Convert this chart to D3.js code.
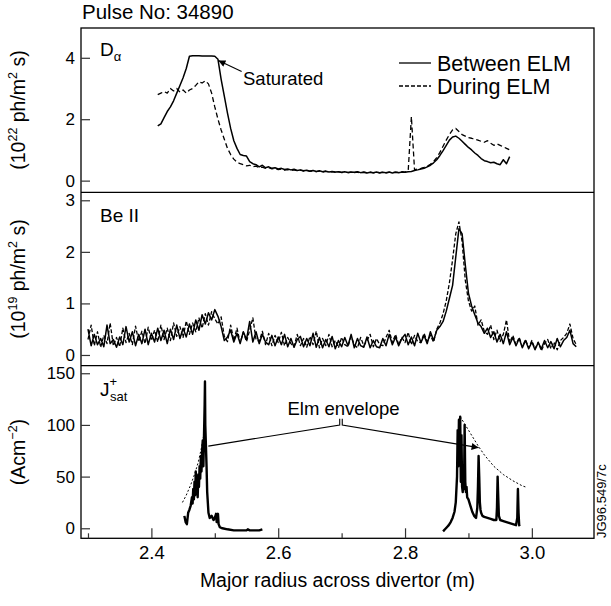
<!DOCTYPE html>
<html>
<head>
<meta charset="utf-8">
<script src="https://cdn.jsdelivr.net/npm/d3@7"></script>
<style>
  body { margin: 0; background: #fff; }
  text { font-family: "Liberation Sans", Arial, Helvetica, sans-serif; fill: #000; }
</style>
</head>
<body>
<svg id="chart" width="611" height="606"></svg>
<script>
// ---------- données ----------
var pulseNo = "34890";
var xTicks = [2.4, 2.6, 2.8, 3.0];
var xMinorTicks = [2.3, 2.5, 2.7, 2.9];

// D alpha (10^22 ph/m2 s), grille 2.410 -> 2.965 pas 0.005
var daStart = 2.41, daStep = 0.005;
var daBetween = [1.78,1.85,2.05,2.25,2.40,2.60,2.85,3.10,3.35,3.65,4.05,4.07,4.07,4.07,4.06,4.06,4.06,4.06,4.05,3.95,
  3.30,2.75,2.20,1.70,1.30,1.05,0.85,0.82,0.80,0.62,0.55,0.52,0.45,0.50,0.42,0.45,0.40,0.42,0.38,0.40,
  0.36,0.38,0.35,0.37,0.33,0.35,0.32,0.34,0.31,0.33,0.30,0.32,0.29,0.31,0.28,0.30,0.28,0.29,0.27,0.29,
  0.26,0.28,0.27,0.29,0.26,0.28,0.25,0.27,0.26,0.28,0.25,0.27,0.26,0.28,0.25,0.27,0.26,0.28,0.27,0.29,
  0.30,0.33,0.35,0.38,0.40,0.45,0.50,0.58,0.68,0.82,0.98,1.15,1.32,1.42,1.45,1.38,1.28,1.18,1.08,1.00,
  0.90,0.82,0.72,0.65,0.62,0.58,0.60,0.55,0.52,0.68,0.55,0.78];
var daDuring = [2.80,2.85,2.90,2.85,3.00,2.92,3.00,2.88,2.95,2.85,2.95,3.00,3.10,3.22,3.18,3.25,3.15,2.85,2.40,2.00,
  1.65,1.35,1.05,0.85,0.70,0.60,0.55,0.52,0.48,0.50,0.45,0.47,0.42,0.44,0.40,0.42,0.38,0.40,0.36,0.38,
  0.34,0.36,0.33,0.35,0.32,0.34,0.31,0.33,0.30,0.32,0.29,0.31,0.28,0.30,0.28,0.29,0.27,0.29,0.26,0.28,
  0.27,0.28,0.26,0.28,0.25,0.27,0.26,0.28,0.25,0.27,0.26,0.28,0.25,0.27,0.26,0.28,0.27,0.29,0.28,0.32,
  2.08,0.35,0.38,0.40,0.43,0.47,0.53,0.62,0.75,0.92,1.12,1.32,1.50,1.65,1.70,1.60,1.50,1.45,1.40,1.38,
  1.35,1.32,1.28,1.25,1.30,1.22,1.15,1.20,1.15,1.10,1.05,1.00];

// Be II (10^19 ph/m2 s), grille 2.300 -> 3.070 pas 0.005
var beStart = 2.30, beStep = 0.005;
var beBetween = [0.50,0.18,0.40,0.20,0.32,0.16,0.58,0.22,0.30,0.15,0.35,0.20,0.55,0.25,0.45,0.18,0.40,0.22,0.50,0.20,
  0.42,0.25,0.52,0.28,0.48,0.22,0.50,0.30,0.58,0.32,0.52,0.35,0.60,0.40,0.68,0.48,0.78,0.60,0.82,0.68,
  0.88,0.75,0.55,0.28,0.35,0.48,0.25,0.42,0.22,0.45,0.30,0.65,0.25,0.45,0.22,0.40,0.25,0.20,0.38,0.18,
  0.35,0.20,0.40,0.16,0.32,0.15,0.30,0.36,0.16,0.32,0.18,0.42,0.15,0.34,0.14,0.30,0.16,0.36,0.12,0.28,
  0.16,0.34,0.18,0.40,0.14,0.32,0.18,0.15,0.35,0.14,0.28,0.16,0.14,0.32,0.18,0.40,0.20,0.35,0.18,0.32,
  0.40,0.20,0.35,0.18,0.42,0.24,0.38,0.22,0.45,0.28,0.48,0.55,0.65,0.85,1.10,1.35,1.90,2.45,2.35,1.75,
  1.20,0.95,0.78,0.62,0.55,0.42,0.52,0.34,0.45,0.25,0.40,0.22,0.45,0.20,0.34,0.18,0.32,0.14,0.28,0.12,
  0.25,0.10,0.24,0.12,0.28,0.14,0.26,0.12,0.32,0.16,0.28,0.34,0.48,0.22,0.16];
var beDuring = [0.30,0.58,0.18,0.45,0.15,0.38,0.22,0.62,0.18,0.34,0.16,0.52,0.24,0.42,0.20,0.56,0.26,0.46,0.22,0.54,
  0.28,0.48,0.25,0.58,0.30,0.52,0.28,0.62,0.36,0.55,0.34,0.66,0.40,0.62,0.45,0.72,0.52,0.80,0.58,0.84,
  0.70,0.60,0.74,0.36,0.26,0.58,0.28,0.52,0.24,0.44,0.26,0.48,0.72,0.30,0.26,0.46,0.20,0.42,0.18,0.38,
  0.24,0.44,0.18,0.34,0.22,0.16,0.40,0.18,0.32,0.15,0.36,0.20,0.46,0.14,0.32,0.18,0.40,0.16,0.28,0.14,
  0.34,0.20,0.16,0.36,0.20,0.14,0.34,0.18,0.28,0.40,0.16,0.32,0.20,0.18,0.34,0.48,0.24,0.40,0.20,0.34,
  0.24,0.44,0.20,0.38,0.26,0.24,0.42,0.26,0.38,0.25,0.50,0.62,0.80,1.05,1.40,1.85,2.35,2.58,2.20,1.45,
  1.05,0.85,0.95,0.58,0.68,0.46,0.40,0.58,0.30,0.48,0.26,0.40,0.68,0.24,0.38,0.20,0.34,0.16,0.30,0.14,
  0.28,0.12,0.25,0.08,0.22,0.30,0.12,0.25,0.10,0.28,0.34,0.42,0.60,0.32,0.20];

// J+sat (A cm-2)
var jsLeftR = [2.452,2.454,2.456,2.458,2.460,2.462,2.464,2.465,2.466,2.467,2.468,2.469,2.470,2.471,2.472,2.473,2.474,2.475,
  2.476,2.477,2.478,2.479,2.480,2.481,2.482,2.483,2.484,2.4845,2.485,2.486,2.487,2.488,2.490,2.492,2.495,2.498,2.500,
  2.502,2.503,2.504,2.505,2.506,2.508,2.512,2.520,2.530,2.540,2.550,2.552,2.555,2.560,2.570,2.575];
var jsLeftJ = [12,6,4,15,18,22,30,24,38,28,45,32,55,35,48,30,52,40,
  60,48,70,55,75,85,60,90,120,142,100,80,60,35,15,10,12,8,10,
  14,6,12,14,4,1,0,-1,-2,-2,-2,-1,-2,-2,-2,-1];
var jsRightR = [2.860,2.863,2.866,2.869,2.872,2.875,2.878,2.880,2.882,2.883,2.884,2.885,2.886,2.887,2.888,2.889,2.890,2.891,
  2.892,2.893,2.894,2.895,2.896,2.897,2.898,2.900,2.903,2.906,2.909,2.912,2.914,2.915,2.916,2.917,2.918,2.919,2.920,
  2.922,2.925,2.930,2.935,2.940,2.944,2.945,2.946,2.947,2.948,2.949,2.950,2.955,2.960,2.965,2.970,2.975,2.977,2.978,
  2.979,2.980,2.981];
var jsRightJ = [-3,-1,1,3,6,10,16,25,50,95,60,105,70,108,45,90,40,35,
  60,38,100,45,35,40,30,28,22,16,12,10,20,40,70,50,25,18,15,
  12,11,10,9,8,8,20,50,30,12,10,8,7,6,5,4,3,10,38,
  15,3,2];
// enveloppe des ELM (pointillés)
var envLeftR = [2.449,2.455,2.462,2.468,2.474,2.479,2.484];
var envLeftJ = [25,32,42,52,64,78,95];
var envRightR = [2.887,2.895,2.905,2.915,2.925,2.940,2.955,2.970,2.985,2.990];
var envRightJ = [108,100,90,80,71,60,52,46,41,40];

// ---------- mise en page ----------
var svg = d3.select("#chart");
var left = 81, right = 594;
var x = d3.scaleLinear().domain([2.289, 3.098]).range([left, right]);
var y1 = d3.scaleLinear().domain([-0.38, 4.97]).range([192.3, 28]);
var y2 = d3.scaleLinear().domain([-0.206, 3.155]).range([365.6, 192.3]);
var y3 = d3.scaleLinear().domain([-9.7, 157.4]).range([538.3, 365.6]);

function grid(start, step, vals) {
  return vals.map(function(v, i) { return [start + i * step, v]; });
}

// cadres
svg.append("rect").attr("x", left).attr("y", 28).attr("width", right - left).attr("height", 538.3 - 28)
  .attr("fill", "none").attr("stroke", "#000").attr("stroke-width", 1.3);
[192.3, 365.6].forEach(function(yy) {
  svg.append("line").attr("x1", left).attr("x2", right).attr("y1", yy).attr("y2", yy)
    .attr("stroke", "#000").attr("stroke-width", 1.3);
});

// axes y (graduations vers l'intérieur)
function yAxis(scale, ticks) {
  var g = svg.append("g").attr("transform", "translate(" + left + ",0)")
    .call(d3.axisLeft(scale).tickValues(ticks).tickSize(-9).tickPadding(6).tickFormat(d3.format("d")));
  g.select(".domain").remove();
  g.selectAll("line").attr("stroke", "#333").attr("stroke-width", 1.2);
  g.selectAll("text").attr("font-size", 17).attr("font-family", null);
}
yAxis(y1, [0, 2, 4]);
yAxis(y2, [0, 1, 2, 3]);
yAxis(y3, [0, 50, 100, 150]);

// axe x
var gx = svg.append("g").attr("transform", "translate(0,538.3)")
  .call(d3.axisBottom(x).tickValues(xTicks).tickSize(-10).tickPadding(8).tickFormat(d3.format(".1f")));
gx.select(".domain").remove();
gx.selectAll("line").attr("stroke", "#333").attr("stroke-width", 1.2);
gx.selectAll("text").attr("font-size", 18.5).attr("font-family", null);
var gxm = svg.append("g").attr("transform", "translate(0,538.3)")
  .call(d3.axisBottom(x).tickValues(xMinorTicks).tickSize(-5).tickFormat(""));
gxm.select(".domain").remove();
gxm.selectAll("line").attr("stroke", "#333").attr("stroke-width", 1.2);

// courbes
function draw(data, scale, dash, width) {
  svg.append("path").datum(data)
    .attr("d", d3.line().x(function(d) { return x(d[0]); }).y(function(d) { return scale(d[1]); }))
    .attr("fill", "none").attr("stroke", "#000").attr("stroke-width", width)
    .attr("stroke-linejoin", "round")
    .attr("stroke-dasharray", dash);
}
draw(grid(daStart, daStep, daDuring), y1, "5,3", 1.3);
draw(grid(daStart, daStep, daBetween), y1, null, 1.5);
draw(grid(beStart, beStep, beDuring), y2, "4,2", 1.3);
draw(grid(beStart, beStep, beBetween), y2, null, 1.5);
draw(d3.zip(jsLeftR, jsLeftJ), y3, null, 2.4);
draw(d3.zip(jsRightR, jsRightJ), y3, null, 2.4);
draw(d3.zip(envLeftR, envLeftJ), y3, "2,2", 1);
draw(d3.zip(envRightR, envRightJ), y3, "2,2", 1);

// flèches
svg.append("defs").append("marker").attr("id", "arrow").attr("viewBox", "0 0 10 10")
  .attr("refX", 10).attr("refY", 5).attr("markerWidth", 9).attr("markerHeight", 7)
  .attr("orient", "auto").attr("markerUnits", "userSpaceOnUse")
  .append("path").attr("d", "M0,0L10,5L0,10z").attr("fill", "#000");

// "Saturated"
svg.append("line").attr("x1", x(2.5423)).attr("y1", y1(3.55)).attr("x2", x(2.5057)).attr("y2", y1(3.91))
  .attr("stroke", "#000").attr("stroke-width", 1.1).attr("marker-end", "url(#arrow)");
svg.append("text").attr("x", 243).attr("y", 85).attr("font-size", 18.5).text("Saturated");

// "Elm envelope"
svg.append("path")
  .attr("d", "M" + x(2.4898) + "," + y3(79.5) + "L" + x(2.697) + "," + y3(100) + "V" + y3(106))
  .attr("fill", "none").attr("stroke", "#000").attr("stroke-width", 1.1);
svg.append("path")
  .attr("d", "M" + x(2.701) + "," + y3(106) + "V" + y3(100) + "L" + x(2.916) + "," + y3(78))
  .attr("fill", "none").attr("stroke", "#000").attr("stroke-width", 1.1).attr("marker-end", "url(#arrow)");
svg.append("text").attr("x", x(2.703)).attr("y", 415).attr("text-anchor", "middle").attr("font-size", 18.5).text("Elm envelope");

// étiquettes des panneaux
var tDa = svg.append("text").attr("x", 100).attr("y", 56).attr("font-size", 19);
tDa.append("tspan").text("D");
tDa.append("tspan").attr("dy", 5).attr("font-size", 13).text("α");
svg.append("text").attr("x", 100).attr("y", 222).attr("font-size", 19).text("Be II");
var tJ = svg.append("text").attr("x", 100).attr("y", 396).attr("font-size", 19);
tJ.append("tspan").text("J");
tJ.append("tspan").attr("dy", -10).attr("font-size", 13).text("+");
tJ.append("tspan").attr("x", 110).attr("dy", 15).attr("font-size", 13).text("sat");

// légende
svg.append("line").attr("x1", 399).attr("x2", 431).attr("y1", 63).attr("y2", 63).attr("stroke", "#000").attr("stroke-width", 1.3);
svg.append("line").attr("x1", 399).attr("x2", 431).attr("y1", 86).attr("y2", 86).attr("stroke", "#000").attr("stroke-width", 1.3).attr("stroke-dasharray", "4,2");
svg.append("text").attr("x", 437).attr("y", 71).attr("font-size", 21.5).text("Between ELM");
svg.append("text").attr("x", 437).attr("y", 94).attr("font-size", 21.5).text("During ELM");

// titres
svg.append("text").attr("x", 82).attr("y", 19).attr("font-size", 20.5).text("Pulse No: " + pulseNo);
svg.append("text").attr("x", (left + right) / 2).attr("y", 587).attr("text-anchor", "middle").attr("font-size", 19.5)
  .text("Major radius across divertor (m)");

function yLabel(cy, parts) {
  var t = svg.append("text").attr("transform", "translate(25," + cy + ") rotate(-90)")
    .attr("text-anchor", "middle").attr("font-size", 19.5);
  parts.forEach(function(p) {
    t.append("tspan").attr("dy", p[1]).attr("font-size", p[2] || 19.5).text(p[0]);
  });
}
yLabel(110, [["(10", 0], ["22", -8, 12.5], [" ph/m", 8], ["2", -8, 12.5], [" s)", 8]]);
yLabel(279, [["(10", 0], ["19", -8, 12.5], [" ph/m", 8], ["2", -8, 12.5], [" s)", 8]]);
yLabel(452, [["(Acm", 0], ["\u22122", -8, 12.5], [")", 8]]);

// référence de la figure
svg.append("text").attr("transform", "translate(606,538) rotate(-90)").attr("font-size", 13).text("JG96.549/7c");
</script>
</body>
</html>
